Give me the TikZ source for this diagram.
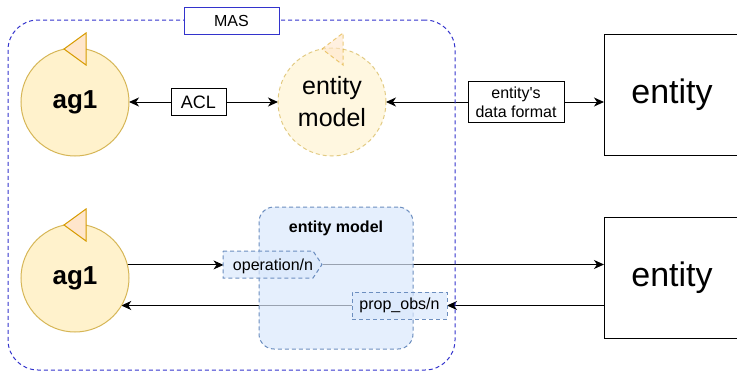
\documentclass[tikz,border=0pt]{standalone}
\usepackage{fontspec}
\setmainfont{Liberation Sans}
\usetikzlibrary{arrows.meta,backgrounds}

\definecolor{agfill}{HTML}{FFF2CC}
\definecolor{agline}{HTML}{D6B656}
\definecolor{trifill}{HTML}{FFE6CC}
\definecolor{triline}{HTML}{D79B00}
\definecolor{masblue}{HTML}{3333CC}
\definecolor{blfill}{HTML}{DAE8FC}
\definecolor{blline}{HTML}{6C8EBF}

\tikzset{
  every node/.style={inner sep=0pt, outer sep=0pt},
  dashline/.style={dash pattern=on 4pt off 3pt},
  agent/.style={circle, minimum size=108pt, fill=agfill, draw=agline, line width=1pt},
  ghostagent/.style={agent, dashline, fill opacity=0.6, draw opacity=0.7, text opacity=1},
  agtri/.style={fill=trifill, draw=triline, line width=1pt, line join=miter},
  ghosttri/.style={agtri, dashline, fill opacity=0.6, draw opacity=0.5},
  lblbox/.style={rectangle, draw=black, fill=white, line width=1pt},
  entbox/.style={rectangle, draw=black, fill=white, line width=1pt, minimum width=136pt, minimum height=121pt},
  bluebox/.style={rectangle, rounded corners=15pt, draw=blline, fill=blfill, dashline, line width=1pt, fill opacity=0.7, text opacity=1},
  portbox/.style={draw=blline, fill=blfill, dashline, line width=1pt, fill opacity=0.7, text opacity=1},
  conn/.style={line width=1pt, draw=black},
  tip/.style={-{Stealth[length=10pt,width=9pt,inset=3pt]}},
  fsmall/.style={font=\fontsize{16}{19}\selectfont},
}

\begin{document}
\begin{tikzpicture}[x=1pt,y=-1pt]
\useasboundingbox (0,0) rectangle (737,372);

% multi-agent system frame
\node[rectangle, rounded corners=30pt, draw=masblue, dashline, line width=1pt,
      minimum width=447pt, minimum height=350pt] (mas) at (231.5,195) {};
\node[lblbox, draw=masblue, minimum width=95pt, minimum height=27pt, fsmall] (maslabel) at (231.5,20.5) {MAS};

% upper row: agent, ACL, entity model, entity
\node[agent, font=\fontsize{26}{30}\selectfont\bfseries] (agtop) at (75,102) {ag1};
\draw[agtri] (64,49) -- (86,33) -- (86,65) -- cycle;

\node[ghostagent, align=center, font=\fontsize{25}{32}\selectfont] (emtop) at (332,102) {entity\\model};
\draw[ghosttri] (322,49) -- (343,33) -- (343,65) -- cycle;

\node[lblbox, minimum width=55pt, minimum height=27pt, font=\fontsize{18}{21}\selectfont] (acl) at (198.5,102) {ACL};
\node[lblbox, minimum width=96pt, minimum height=41pt, align=center, fsmall] (fmt) at (516,102) {entity\textquotesingle s\\data format};

\node[entbox, font=\fontsize{34}{40}\selectfont] (enttop) at (672,94.5) {entity};

% lower row: agent, entity model with ports, entity
\node[agent, font=\fontsize{26}{30}\selectfont\bfseries] (agbot) at (75,278) {ag1};
\draw[agtri] (64,225) -- (86,209) -- (86,241) -- cycle;

\node[entbox, font=\fontsize{34}{40}\selectfont] (entbot) at (672,278) {entity};

\node[bluebox, minimum width=154pt, minimum height=142pt] (embox) at (336,278) {};
\node[font=\fontsize{16}{19}\selectfont\bfseries] (emtitle) at (336,228) {entity model};

\path[portbox] (223,251) -- (313,251) -- (322,264.5) -- (313,278) -- (223,278) -- cycle;
\node[minimum width=99pt, minimum height=27pt, fsmall, text depth=0pt] (op) at (273,264.5) {operation/n};
\node[portbox, rectangle, minimum width=95pt, minimum height=27pt, fsmall] (prop) at (399.5,305.5) {prop\_obs/n};

% connectors
\begin{scope}[on background layer]
  \draw[conn,tip] (acl) -- (agtop);
  \draw[conn,tip] (acl) -- (emtop);
  \draw[conn,tip] (fmt) -- (emtop);
  \draw[conn,tip] (fmt.east) -- (fmt.east -| enttop.west);
  \draw[conn,tip] (agbot.14) -- (agbot.14 -| op.west);
  \draw[conn,tip] (op.east) -- (op.east -| entbot.west);
  \draw[conn,tip] (prop.east -| entbot.west) -- (prop.east);
  \draw[conn,tip] (prop.west) -- (prop.west -| agbot.-31);
\end{scope}
\end{tikzpicture}
\end{document}
